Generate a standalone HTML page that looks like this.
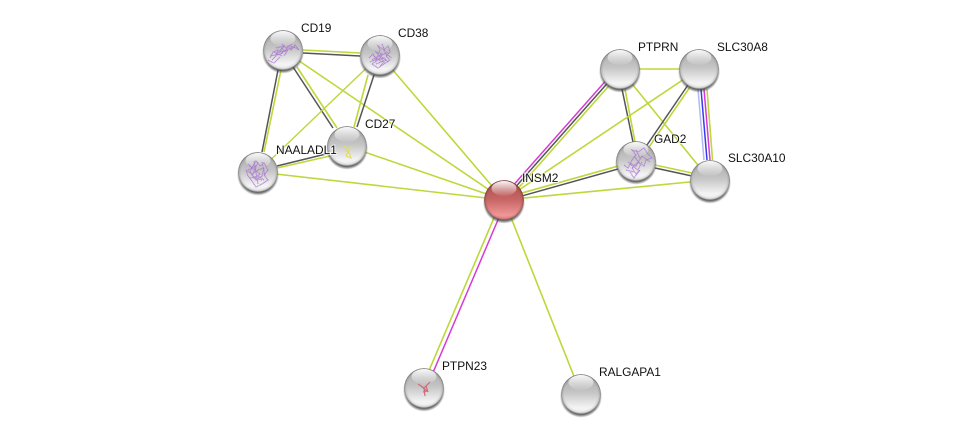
<!DOCTYPE html>
<html><head><meta charset="utf-8"><style>
html,body{margin:0;padding:0;background:#fff;width:975px;height:439px;overflow:hidden}
svg{display:block}
text{font-family:"Liberation Sans",sans-serif;font-size:11.9px;fill:#111;paint-order:stroke;stroke:rgba(255,255,255,.7);stroke-width:2px}
.g{stroke:#bcd83a;stroke-width:1.6;fill:none}
.k{stroke:#555;stroke-width:1.5;fill:none}
.m{stroke:#d63ad6;stroke-width:1.5;fill:none}
.b{stroke:#3a3af0;stroke-width:1.5;fill:none}
.l{stroke:#b0baf4;stroke-width:1.5;fill:none}
.p{fill:none;stroke:#a66fd0;stroke-width:1.1;stroke-dasharray:1.2 .4;opacity:.8;filter:url(#soft)}
</style></head><body>
<svg width="975" height="439" viewBox="0 0 975 439" xmlns="http://www.w3.org/2000/svg">
<defs>
<filter id="soft" x="-20%" y="-20%" width="140%" height="140%"><feGaussianBlur stdDeviation=".35"/></filter>
<linearGradient id="body" x1="0" y1="0" x2="0" y2="1"><stop offset="0" stop-color="#a8a8a8"/><stop offset=".45" stop-color="#c4c4c4"/><stop offset=".85" stop-color="#f4f4f4"/><stop offset="1" stop-color="#eee"/></linearGradient>
<linearGradient id="bodyr" x1="0" y1="0" x2="0" y2="1"><stop offset="0" stop-color="#a84a4a"/><stop offset=".5" stop-color="#c96666"/><stop offset=".88" stop-color="#f09696"/><stop offset="1" stop-color="#e88888"/></linearGradient>
<radialGradient id="edge" cx=".5" cy=".5" r=".5"><stop offset=".84" stop-color="#000" stop-opacity="0"/><stop offset=".94" stop-color="#000" stop-opacity=".1"/><stop offset="1" stop-color="#000" stop-opacity=".42"/></radialGradient>
<linearGradient id="hl" x1="0" y1="0" x2="0" y2="1"><stop offset="0" stop-color="#fff" stop-opacity=".95"/><stop offset="1" stop-color="#fff" stop-opacity=".05"/></linearGradient>
<radialGradient id="sh" cx=".5" cy=".5" r=".5"><stop offset=".86" stop-color="#444" stop-opacity=".8"/><stop offset="1" stop-color="#444" stop-opacity="0"/></radialGradient>
<g id="n">
<circle cx="0" cy="2.6" r="21" fill="url(#sh)"/>
<circle r="19.8" fill="url(#body)"/>
<circle r="19.8" fill="url(#edge)"/>
<ellipse cx="0" cy="-11.5" rx="12.5" ry="7.5" fill="url(#hl)"/>
</g>
<g id="r">
<circle cx="0" cy="2.6" r="21" fill="url(#sh)"/>
<circle r="19.8" fill="url(#bodyr)"/>
<circle r="19.8" fill="url(#edge)"/>
<ellipse cx="0" cy="-11.5" rx="12.5" ry="7.5" fill="url(#hl)"/>
</g>
</defs>

<path class="g" d="M303 50L360 53"/><path class="k" d="M303 53L360 56"/>
<path class="k" d="M278 70L262 152"/><path class="g" d="M281 70L264 152"/>
<path class="k" d="M293 67L333 128"/><path class="g" d="M297 67L337 128"/>
<path class="g" d="M283 50L504 200"/>
<path class="g" style="stroke-width:1.4" d="M380 55L258 172"/>
<path class="g" d="M368 75L354 127"/><path class="k" d="M374 75L357 127"/>
<path class="g" d="M380 55L504 200"/>
<path class="k" d="M277 166L330 153"/><path class="g" d="M277 168L330 156"/>
<path class="g" d="M347 146L504 200"/>
<path class="g" d="M258 172L504 200"/>

<path class="m" d="M618 67L502 198"/><path class="k" d="M620 69L504 200"/><path class="g" d="M622 71L506 202"/>
<path class="g" d="M620 69L699 69"/>
<path class="k" d="M622 89L633 142"/><path class="g" d="M625 89L635 142"/>
<path class="g" d="M620 69L710 180"/>
<path class="g" d="M699 69L504 200"/>
<path class="k" d="M688 85L647 145"/><path class="g" d="M690 87L649 147"/>
<path class="l" d="M698 89L704 160"/><path class="b" d="M701 89L707 160"/><path class="m" d="M704 89L710 160"/><path class="g" d="M707 89L712.500 160"/>
<path class="g" d="M655 165L692 173"/><path class="k" d="M655 168L692 176"/>
<path class="g" d="M636 161L504 198"/><path class="k" d="M636 164L504 201"/>
<path class="g" d="M710 180L504 200"/>

<path class="g" d="M502 199L422 387"/><path class="m" d="M506 201L426 389"/>
<path class="g" d="M504 200L581 394"/>

<use href="#n" x="283" y="50"/>
<path class="p" d="M270 58L273 52L278 50L276 55L282 48L285 52L288 46L291 50L295 45L299 50L296 48L290 46M270 56L280 54L286 50L294 47M272 60L277 55L283 53M268 60L274 63L280 57M282 44L286 48L292 44M274 52L282 56M276 48L284 46L280 52L288 50L284 56"/>
<use href="#n" x="380" y="55"/>
<path class="p" d="M369 58L373 54L376 60L380 50L378 46L384 50L388 46L390 52L386 56L390 60L384 64L378 68L372 64L378 60L384 58L388 62M372 60L382 54L376 52L384 62L380 66M382 44L386 54L392 58M374 56L382 62M376 64L386 60L380 56L388 52M370 62L380 58"/>
<use href="#n" x="347" y="146"/>
<path d="M344 146L349 150L346 156L351 158L348 150L352 146M345 150L350 154" fill="none" stroke="#e2dc62" stroke-width="1.1" filter="url(#soft)"/>
<use href="#n" x="258" y="172"/>
<path class="p" d="M248 164L252 168L256 161L260 166L264 163L268 170L264 175L268 180L262 184L256 187L252 181L248 176L246 170L252 174L258 170L264 168L262 176L256 180L250 172L254 164M250 178L258 176L264 180M254 161L258 184M262 162L265 176M248 170L256 166M250 166L260 174L254 178L262 180M258 162L252 176"/>
<use href="#n" x="636" y="161"/>
<path class="p" d="M624 165L628 168L632 160L636 155L632 150L638 152L644 148L648 154L652 158L646 160L644 166L638 162L632 168L636 174L640 170L634 178L630 172M628 162L636 166L642 156L650 162M634 156L640 164M626 170L634 172M630 164L638 170L642 162M636 150L640 158"/>
<use href="#n" x="620" y="69"/>
<use href="#n" x="699" y="69"/>
<use href="#n" x="710" y="180"/>
<use href="#r" x="504" y="200"/>
<use href="#n" x="424" y="388"/>
<path d="M418 384L424 388L430 382M424 388L425 396M421 386L427 391L423 392M426 386L428 392" fill="none" stroke="#cf6a78" stroke-width="1.2" filter="url(#soft)"/>
<use href="#n" x="581" y="394"/>

<text x="301" y="32">CD19</text>
<text x="398" y="37">CD38</text>
<text x="365" y="128">CD27</text>
<text x="276" y="154">NAALADL1</text>
<text x="638" y="51">PTPRN</text>
<text x="717" y="51">SLC30A8</text>
<text x="654" y="143">GAD2</text>
<text x="728" y="162">SLC30A10</text>
<text x="522" y="182">INSM2</text>
<text x="442" y="370">PTPN23</text>
<text x="599" y="376">RALGAPA1</text>
</svg>
</body></html>
